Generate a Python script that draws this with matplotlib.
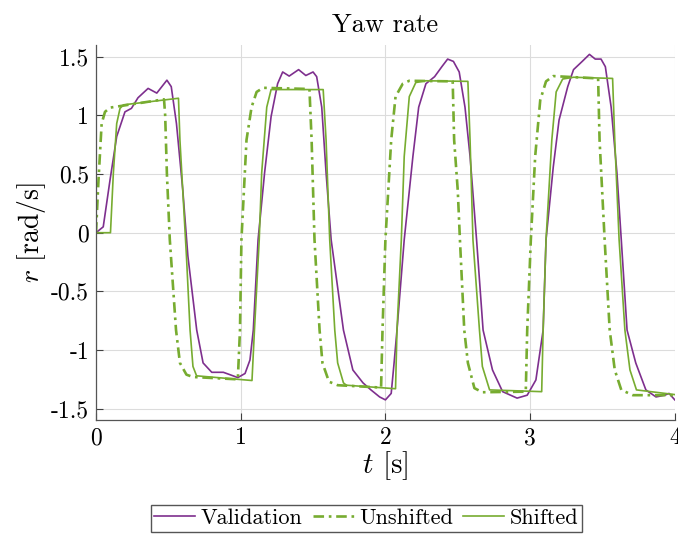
import matplotlib
matplotlib.use("Agg")
import matplotlib.pyplot as plt

# yaw rate r [rad/s], time t [s]
val_t = [0, 0.05, 0.097, 0.143, 0.2, 0.245, 0.29, 0.36, 0.42, 0.49, 0.52, 0.556, 0.6,
         0.635, 0.696, 0.74, 0.8, 0.88, 0.925, 0.98, 1.03, 1.064, 1.087, 1.12, 1.165,
         1.21, 1.255, 1.29, 1.335, 1.4, 1.45, 1.5, 1.525, 1.56, 1.59, 1.625, 1.71,
         1.775, 1.845, 1.9, 1.96, 2.0, 2.04, 2.06, 2.08, 2.13, 2.19, 2.23, 2.28, 2.34,
         2.39, 2.43, 2.47, 2.51, 2.55, 2.585, 2.63, 2.675, 2.74, 2.81, 2.91, 2.98, 3.04,
         3.07, 3.09, 3.11, 3.16, 3.2, 3.26, 3.3, 3.36, 3.41, 3.45, 3.49, 3.52, 3.56,
         3.6, 3.63, 3.67, 3.73, 3.8, 3.87, 3.93, 3.96, 4.0]
val_r = [0, 0.05, 0.45, 0.82, 1.03, 1.06, 1.15, 1.23, 1.19, 1.30, 1.245, 0.93, 0.36,
         -0.2, -0.83, -1.11, -1.19, -1.19, -1.21, -1.235, -1.20, -1.085, -0.83, -0.06,
         0.51, 0.99, 1.27, 1.37, 1.335, 1.39, 1.34, 1.37, 1.33, 1.07, 0.51, -0.06,
         -0.83, -1.17, -1.28, -1.34, -1.40, -1.425, -1.37, -1.11, -0.83, -0.06, 0.65,
         1.07, 1.27, 1.33, 1.415, 1.48, 1.46, 1.37, 1.07, 0.65, -0.06, -0.83, -1.17,
         -1.355, -1.41, -1.385, -1.255, -1.0, -0.83, -0.06, 0.56, 0.96, 1.245, 1.39,
         1.46, 1.52, 1.48, 1.48, 1.415, 1.07, 0.51, -0.06, -0.83, -1.11, -1.34, -1.40,
         -1.385, -1.37, -1.425]

unshift_t = [0, 0.016, 0.039, 0.062, 0.097, 0.47, 0.478, 0.49, 0.51, 0.553, 0.58, 0.625,
             0.67, 0.98, 0.995, 1.005, 1.04, 1.075, 1.11, 1.155, 1.475, 1.49, 1.51,
             1.545, 1.565, 1.61, 1.67, 1.97, 1.98, 2.0, 2.04, 2.07, 2.12, 2.165, 2.465,
             2.475, 2.5, 2.515, 2.545, 2.57, 2.615, 2.67, 2.97, 2.98, 3.005, 3.035, 3.07,
             3.11, 3.16, 3.47, 3.48, 3.515, 3.55, 3.585, 3.63, 3.71, 4.0]
unshift_r = [0, 0.42, 0.93, 1.03, 1.066, 1.137, 1.0, 0.5, -0.06, -0.83, -1.11, -1.21,
             -1.23, -1.25, -0.83, -0.06, 0.79, 1.07, 1.20, 1.235, 1.225, 0.79, -0.06,
             -0.83, -1.11, -1.27, -1.30, -1.32, -0.83, -0.06, 0.79, 1.16, 1.27, 1.295,
             1.29, 0.79, 0.36, -0.06, -0.83, -1.11, -1.325, -1.36, -1.355, -0.83, -0.06,
             0.65, 1.13, 1.29, 1.335, 1.315, 0.79, -0.06, -0.83, -1.17, -1.34, -1.385,
             -1.385]

shift_t = [0, 0.10, 0.12, 0.143, 0.166, 0.19, 0.57, 0.58, 0.625, 0.65, 0.67, 0.695,
           1.078, 1.095, 1.128, 1.145, 1.18, 1.21, 1.57, 1.59, 1.615, 1.65, 1.67, 1.71,
           1.73, 2.07, 2.08, 2.11, 2.13, 2.165, 2.21, 2.28, 2.57, 2.585, 2.605, 2.65,
           2.67, 2.72, 3.08, 3.09, 3.11, 3.15, 3.18, 3.225, 3.3, 3.57, 3.585, 3.615,
           3.655, 3.69, 3.735, 4.0]
shift_r = [0, 0, 0.51, 0.93, 1.06, 1.09, 1.146, 0.79, -0.2, -0.83, -1.14, -1.22, -1.26,
           -0.83, -0.06, 0.51, 1.07, 1.22, 1.22, 0.79, -0.06, -0.83, -1.11, -1.28, -1.30,
           -1.33, -0.83, -0.06, 0.65, 1.16, 1.28, 1.295, 1.29, 0.79, -0.06, -0.83, -1.14,
           -1.34, -1.355, -0.83, -0.06, 0.79, 1.2, 1.31, 1.325, 1.315, 0.79, -0.06,
           -0.83, -1.17, -1.34, -1.38]

xticks = [0, 1, 2, 3, 4]
yticks = [-1.5, -1, -0.5, 0, 0.5, 1, 1.5]
ytick_labels = ['-1.5', '-1', '-0.5', '0', '0.5', '1', '1.5']

purple = '#7E2F8E'
green = '#77AC30'

plt.rcParams['font.family'] = 'serif'
plt.rcParams['font.serif'] = ['cmr10']
plt.rcParams['mathtext.fontset'] = 'cm'
plt.rcParams['axes.unicode_minus'] = False

fig = plt.figure(figsize=(6.78, 5.35), dpi=100)
ax = fig.add_axes([0.1416, 0.2142, 0.8537, 0.7017])

ax.plot(val_t, val_r, color=purple, lw=1.2, label='Validation')
ax.plot(unshift_t, unshift_r, color=green, lw=1.9, ls=(0, (4, 1.8, 1, 1.8)),
        label='Unshifted')
ax.plot(shift_t, shift_r, color=green, lw=1.2, label='Shifted')

ax.set_xlim(0, 4)
ax.set_ylim(-1.6, 1.6)
ax.set_xticks(xticks)
ax.set_xticklabels([str(v) for v in xticks])
ax.set_yticks(yticks)
ax.set_yticklabels(ytick_labels)
ax.tick_params(direction='in', length=5, width=0.8, color='#404040',
               labelsize=17, pad=5)
ax.grid(True, color='#dcdcdc', lw=0.8)
ax.set_axisbelow(True)
for s in ['top', 'right']:
    ax.spines[s].set_visible(False)
for s in ['left', 'bottom']:
    ax.spines[s].set_color('#555555')
    ax.spines[s].set_linewidth(0.9)

ax.set_title('Yaw rate', fontsize=19, pad=9)
ax.set_xlabel(r'$t$ [s]', fontsize=21, labelpad=0)
ax.set_ylabel(r'$r$ [rad/s]', fontsize=20, labelpad=2)

fig.legend(loc='center', bbox_to_anchor=(0.5405, 0.031), ncol=3, fontsize=16,
           fancybox=False, edgecolor='#555555', framealpha=1, handlelength=1.85,
           columnspacing=0.45, handletextpad=0.25, borderpad=0.15,
           borderaxespad=0)

fig.savefig('out.png', dpi=100)
